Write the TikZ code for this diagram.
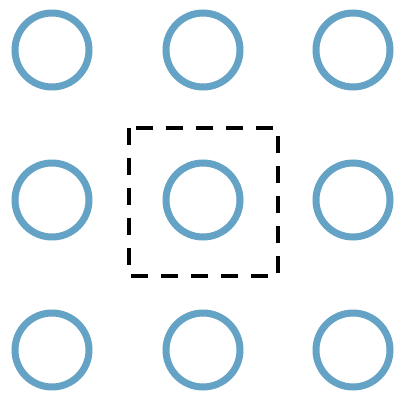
\documentclass[tikz,border=0pt]{standalone}
\definecolor{ringblue}{RGB}{100,162,198}
\tikzset{ring/.style={draw=ringblue,line width=7pt,circle,minimum size=74pt,inner sep=0pt},
  box/.style={draw=black,line width=3.5pt,dash pattern=on 17pt off 13pt}}
\begin{document}
\begin{tikzpicture}[x=1pt,y=-1pt]
\useasboundingbox (0,0) rectangle (397,400);
\foreach \i/\x in {1/52,2/203,3/353}{
  \foreach \j/\y in {1/50,2/200,3/350}{
    \node[ring] (c\i\j) at (\x,\y) {};
  }
}
\coordinate (tl) at (129,128);
\coordinate (br) at (278,276);
\draw[box] (tl) rectangle (br);
\end{tikzpicture}
\end{document}
